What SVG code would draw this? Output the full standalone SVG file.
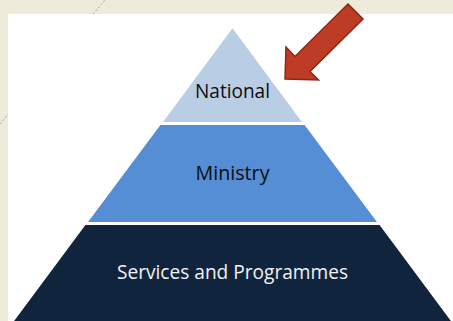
<svg xmlns="http://www.w3.org/2000/svg" width="453" height="321" viewBox="0 0 453 321">
  <style>
    .tier { stroke: #ffffff; stroke-width: 1.5; }
    .label { font-family: "Open Sans", "Noto Sans", "Liberation Sans", sans-serif; font-size: 20px; text-anchor: middle; }
  </style>
  <!-- slide background -->
  <rect x="0" y="0" width="453" height="321" fill="#EEEBDB"/>
  <line x1="0" y1="124" x2="105" y2="0" stroke="#A9A79A" stroke-width="1" stroke-dasharray="2 2"/>
  <!-- content panel -->
  <rect x="8" y="14" width="445" height="307" fill="#ffffff"/>

  <g id="tier-national">
    <polygon class="tier" points="232.5,27 161.5,122.8 303.5,122.8" fill="#B9CDE5"/>
    <text class="label" x="232.5" y="97.5" fill="#0D0D0D" textLength="75" lengthAdjust="spacingAndGlyphs">National</text>
  </g>
  <g id="tier-ministry">
    <polygon class="tier" points="160,124.2 305,124.2 378.5,222.8 86.5,222.8" fill="#558ED5"/>
    <text class="label" x="232.5" y="180" fill="#0D0D0D" textLength="74" lengthAdjust="spacingAndGlyphs">Ministry</text>
  </g>
  <g id="tier-services">
    <polygon class="tier" points="85,224.2 380,224.2 460,332 5,332" fill="#10243E"/>
    <text class="label" x="232.5" y="278.5" fill="#F2F2F2" textLength="231" lengthAdjust="spacingAndGlyphs">Services and Programmes</text>
  </g>

  <g id="connectors">
    <!-- block arrow pointing at the top tier -->
    <polygon points="285,79 286,47 295,56.5 348,4 363,19 310,71.5 318.5,80" fill="#BE3B25" stroke="#8A2717" stroke-width="1.5" stroke-linejoin="miter"/>
  </g>
</svg>
